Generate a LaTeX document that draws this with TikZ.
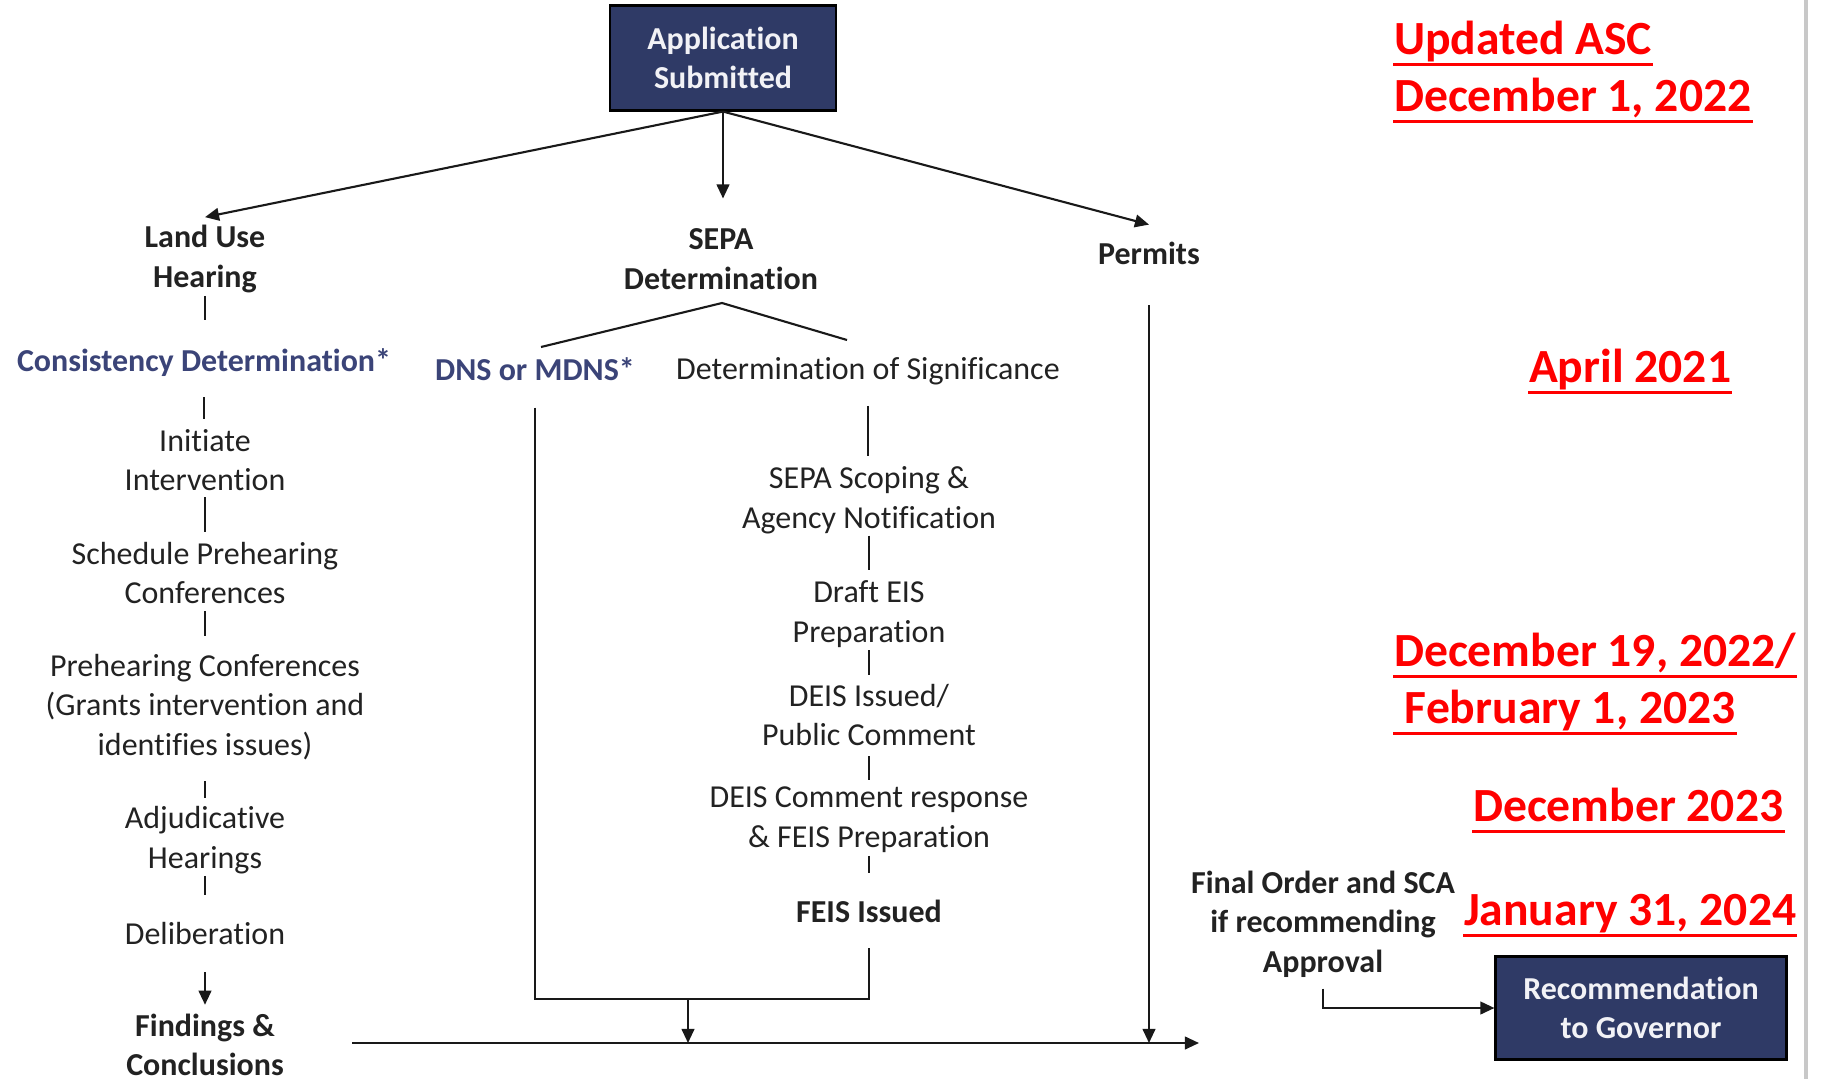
\documentclass[tikz,border=0pt]{standalone}
\usepackage{fontspec}
\setmainfont{Carlito}[Ligatures=NoCommon]
\usetikzlibrary{arrows.meta}
\definecolor{boxnavy}{RGB}{47,58,102}
\definecolor{boxtext}{RGB}{242,242,246}
\definecolor{labelnavy}{RGB}{59,68,120}
\definecolor{datered}{RGB}{255,0,0}
\definecolor{textdark}{RGB}{34,34,34}
\definecolor{flowline}{RGB}{25,25,25}
\definecolor{pageedge}{RGB}{200,200,200}
\tikzstyle{every path}=[line width=0.6pt]
\tikzstyle{stage}=[align=center, inner sep=0pt, text=textdark, font=\fontsize{9.1}{11.3}\selectfont]
\tikzstyle{stagebold}=[stage, font=\bfseries\fontsize{9.1}{11.3}\selectfont]
\tikzstyle{navylabel}=[stagebold, text=labelnavy]
\tikzstyle{titlebox}=[stagebold, text=boxtext, fill=boxnavy, draw=black, minimum width=2.26cm, minimum height=1.05cm]
\tikzstyle{link}=[draw=flowline]
\tikzstyle{flow}=[link, -{Triangle[length=4pt,width=3.6pt]}]
\tikzstyle{datelabel}=[anchor=base west, inner sep=0pt, text=datered, text depth=2.7pt,
    font=\bfseries\fontsize{13.55}{16}\selectfont,
    append after command={(\tikzlastnode.south west) edge[draw=datered, line width=0.9pt] (\tikzlastnode.south east)}]

\begin{document}
\begin{tikzpicture}[y=-1cm]
            \useasboundingbox (0,0) rectangle (18.26,10.79);
            \draw[draw=pageedge, line width=0.9pt] (18.06,0) -- (18.06,10.79);

            \node[titlebox] (app) at (7.23,0.58) {Application\\Submitted};
            \node[stagebold] (luh) at (2.05,2.59) {Land Use\\Hearing};
            \node[stagebold] (sepa) at (7.21,2.59) {SEPA\\Determination};
            \node[stagebold] (permits) at (11.49,2.53) {Permits};

            \node[navylabel] (cd) at (2.04,3.63) {Consistency Determination*};
            \node[stage] (ii) at (2.05,4.60) {Initiate\\Intervention};
            \node[stage] (sph) at (2.05,5.73) {Schedule Prehearing\\Conferences};
            \node[stage] (phc) at (2.05,7.07) {Prehearing Conferences\\(Grants intervention and\\identifies issues)};
            \node[stage] (adj) at (2.05,8.40) {Adjudicative\\Hearings};
            \node[stage] (del) at (2.05,9.34) {Deliberation};
            \node[stagebold] (fc) at (2.05,10.45) {Findings \&\\Conclusions};

            \node[navylabel] (dns) at (5.35,3.69) {DNS or MDNS*};
            \node[stage] (dos) at (8.68,3.71) {Determination of Significance};
            \node[stage] (scop) at (8.69,5.00) {SEPA Scoping \&\\Agency Notification};
            \node[stage] (draft) at (8.69,6.14) {Draft EIS\\Preparation};
            \node[stage] (deis) at (8.69,7.15) {DEIS Issued/\\Public Comment};
            \node[stage] (resp) at (8.69,8.20) {DEIS Comment response\\\& FEIS Preparation};
            \node[stagebold] (feis) at (8.69,9.11) {FEIS Issued};

            \node[stagebold] (final) at (13.23,9.24) {Final Order and SCA\\if recommending\\Approval};
            \node[titlebox, minimum width=2.91cm, minimum height=1.03cm] (rec) at (16.41,10.08) {Recommendation\\to Governor};

            \coordinate (fork) at (7.22,3.03);
            \coordinate (forkl) at (5.41,3.47);
            \coordinate (forkr) at (8.47,3.40);
            \coordinate (join) at (6.88,9.99);
            \coordinate (mainl) at (3.52,10.43);
            \coordinate (mainr) at (11.99,10.43);

            \draw[flow] (app.south) -- ([yshift=0.07cm]luh.north);
            \draw[flow, shorten >=0.29cm] (app.south) -- (app.south |- sepa.north);
            \draw[flow] (app.south) -- ([yshift=0.16cm]permits.north);

            \draw[link, shorten <=0.02cm, shorten >=0.28cm] (luh.south) -- (luh.south |- cd.north);
            \draw[link, shorten <=0.19cm, shorten >=0.09cm] (cd.south) -- (cd.south |- ii.north);
            \draw[link, shorten <=0.05cm, shorten >=0.09cm] (ii.south) -- (ii.south |- sph.north);
            \draw[link, shorten <=0.06cm, shorten >=0.17cm] (sph.south) -- (sph.south |- phc.north);
            \draw[link, shorten <=0.20cm, shorten >=0.07cm] (phc.south) -- (phc.south |- adj.north);
            \draw[link, shorten <=0.01cm, shorten >=0.27cm] (adj.south) -- (adj.south |- del.north);
            \draw[flow, shorten <=0.26cm, shorten >=0.08cm] (del.south) -- (del.south |- fc.north);

            \draw[link] (forkl) -- (fork) -- (forkr);
            \draw[link, shorten <=0.20cm, shorten >=0.09cm] (dos.south) -- (dos.south |- scop.north);
            \draw[link, shorten <=0.01cm, shorten >=0.10cm] (scop.south) -- (scop.south |- draft.north);
            \draw[link, shorten <=0.02cm, shorten >=0.08cm] (draft.south) -- (draft.south |- deis.north);
            \draw[link, shorten <=0.09cm, shorten >=0.06cm] (deis.south) -- (deis.south |- resp.north);
            \draw[link, shorten <=0.02cm, shorten >=0.26cm] (resp.south) -- (resp.south |- feis.north);
            \draw[link, shorten <=0.26cm, shorten >=0.25cm] (dns.south) -- (dns.south |- join) -- (feis.south |- join) -- (feis.south);

            \draw[flow] (join) -- (join |- mainl);
            \draw[flow] (mainl) -- (mainr);
            \draw[flow, shorten <=0.40cm] (permits.south) -- (permits.south |- mainl);
            \draw[flow, shorten <=0.10cm] (final.south) |- (rec.west);

            \node[datelabel] (upd) at (13.93,0.54) {Updated ASC};
            \node[datelabel] (asc) at (13.93,1.11) {December 1, 2022};
            \node[datelabel] (apr) at (15.28,3.82) {April 2021};
            \node[datelabel] (dec19) at (13.93,6.66) {December 19, 2022/};
            \node[datelabel] (feb) at (13.93,7.23) {\ February 1, 2023};
            \node[datelabel] (dec23) at (14.72,8.21) {December 2023};
            \node[datelabel] (jan) at (14.63,9.25) {January 31, 2024};
        \end{tikzpicture}
\end{document}
